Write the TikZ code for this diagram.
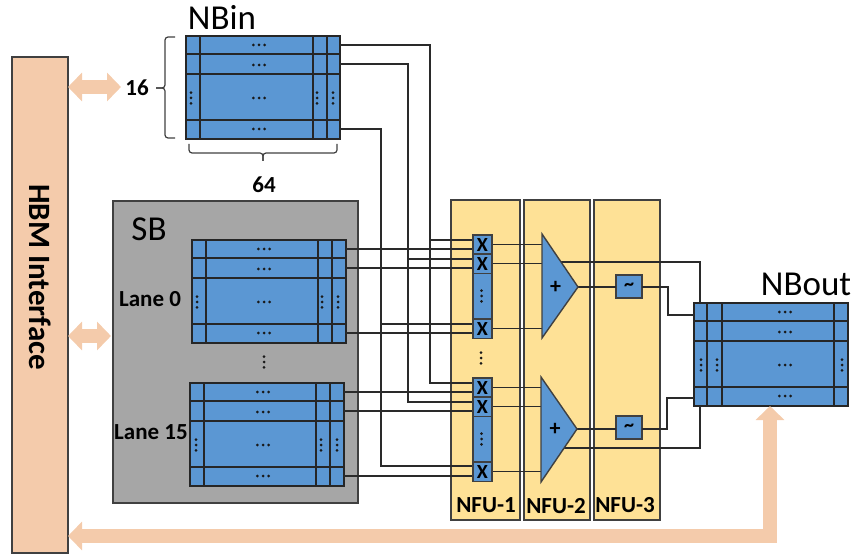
\documentclass[tikz,border=0pt]{standalone}
\usepackage{fontspec}
\setmainfont{Carlito}
\usetikzlibrary{arrows.meta}
\definecolor{memblue}{HTML}{5B97D3}
\definecolor{nfuyellow}{HTML}{FEE196}
\definecolor{peach}{HTML}{F4CBAB}
\definecolor{sbgray}{HTML}{A6A6A6}
\definecolor{edgegray}{HTML}{404040}
\definecolor{wirecol}{HTML}{2A2A2A}
\tikzset{
  panel/.style={draw=edgegray,line width=1.4bp,inner sep=0pt,outer sep=0pt},
  bankbox/.style={draw=black!85,fill=memblue,line width=1.4bp,inner sep=0pt,outer sep=0pt,
    minimum width=154bp,minimum height=103bp,anchor=north west},
  gridline/.style={draw=black!85,line width=1.2bp},
  wire/.style={draw=wirecol,line width=1.2bp},
  unitbox/.style={draw=edgegray,fill=memblue,line width=1.4bp,inner sep=0pt,outer sep=0pt},
  multcell/.style={unitbox,minimum width=19bp,minimum height=19.5bp,font=\fontsize{20bp}{20bp}\selectfont\bfseries},
  adder/.style={draw=edgegray,fill=memblue,line width=1.4bp,line join=miter},
  tilde/.style={unitbox,minimum width=26bp,minimum height=23bp,font=\fontsize{20bp}{20bp}\selectfont\bfseries},
  bigarrow/.style={draw=peach,line width=14bp,line join=miter,
    {Triangle[length=14bp,width=28bp,fill=peach]}-{Triangle[length=14bp,width=28bp,fill=peach]}},
  bigtitle/.style={font=\fontsize{35bp}{35bp}\selectfont,inner sep=0pt},
  boldlabel/.style={font=\fontsize{23bp}{23bp}\selectfont\bfseries,inner sep=0pt},
  bracket/.style={draw=edgegray,line width=1.2bp,rounded corners=3bp},
  dotmark/.style={fill=black!90},
}
% dots: horizontal / vertical triple
\newcommand{\tripleH}[2]{\foreach \dd in {-5.7,0,5.7}{\fill[dotmark] (#1+\dd,#2) circle (1.5bp);}}
\newcommand{\tripleV}[2]{\foreach \dd in {-5.4,0,5.4}{\fill[dotmark] (#1,#2+\dd) circle (1.5bp);}}
% \bank{name}{x}{y}{column offsets}{vertical-dot offsets}{horizontal-dot offset}
\newcommand{\bank}[6]{%
  \node[bankbox] (#1) at (#2,#3) {};
  \foreach \r in {18,38,84}{\draw[gridline] (#2,#3+\r) -- (#2+154,#3+\r);}
  \foreach \c in {#4}{\draw[gridline] (#2+\c,#3) -- (#2+\c,#3+103);}
  \foreach \r in {9,29,62,93}{\tripleH{#2+#6}{#3+\r}}
  \foreach \c in {#5}{\tripleV{#2+\c}{#3+62}}
  \coordinate (#1-e1) at (#2+154,#3+9);
  \coordinate (#1-e2) at (#2+154,#3+28);
  \coordinate (#1-e4) at (#2+154,#3+93);
}
\begin{document}
\begin{tikzpicture}[x=1bp,y=-1bp]
\useasboundingbox (0,0) rectangle (855,557);

% backgrounds
\node[panel,fill=peach,minimum width=56bp,minimum height=496bp,anchor=north west] (hbm) at (12,57) {};
\node[bigtitle,font=\fontsize{31bp}{31bp}\selectfont\bfseries,rotate=-90] (hbmlabel) at (40,277) {HBM Interface};
\node[panel,fill=sbgray,minimum width=245bp,minimum height=302bp,anchor=north west] (sb) at (113,201) {};
\node[panel,fill=nfuyellow,minimum width=69bp,minimum height=320bp,anchor=north west] (nfu1) at (451,200) {};
\node[panel,fill=nfuyellow,minimum width=66bp,minimum height=320bp,anchor=north west] (nfu2) at (524,200) {};
\node[panel,fill=nfuyellow,minimum width=66bp,minimum height=320bp,anchor=north west] (nfu3) at (594,200) {};

% memory banks
\bank{nbin}{186}{36}{14,127,141}{5,131,147}{73}
\bank{lane0}{192}{240}{14,126,140}{5,130,146}{72}
\bank{lanef}{190}{383}{14,126,140}{6,131,147}{73}
\bank{nbout}{694}{303}{13,28,140}{7,23,148}{91}

% junction points
\coordinate (busA) at (430,300);
\coordinate (busB) at (408,300);
\coordinate (busC) at (381,300);
\coordinate (in1a) at (473,240);
\coordinate (in2a) at (473,259);
\coordinate (in3a) at (473,324);
\coordinate (in4a) at (473,383);
\coordinate (in5a) at (473,402);
\coordinate (in6a) at (473,466);
\coordinate (a1top) at (542,234);
\coordinate (a1bot) at (542,338);
\coordinate (a1tip) at (578,287);
\coordinate (a2top) at (541,377);
\coordinate (a2bot) at (541,482);
\coordinate (a2tip) at (577,429);
\coordinate (a1back) at (561,262);
\coordinate (a2back) at (562,448);
\coordinate (back1) at (700,262);
\coordinate (back2) at (700,448);
\coordinate (jog1) at (668,315);
\coordinate (jog2) at (667,398);

% multiplier cells (placed first so that wires may use their names)
\node[multcell,anchor=north west] (m1) at (473,235) {};
\node[multcell,anchor=north west] (m2) at (473,254) {};
\node[multcell,anchor=north west] (m3) at (473,319) {};
\node[multcell,anchor=north west] (m4) at (473,378) {};
\node[multcell,anchor=north west] (m5) at (473,397) {};
\node[multcell,anchor=north west] (m6) at (473,462) {};
\node[tilde,anchor=north west] (t1) at (616,275) {\raisebox{-2bp}{\char`\~}};
\node[tilde,anchor=north west] (t2) at (616,416) {\raisebox{-2bp}{\char`\~}};

% wires: NBin to multipliers
\draw[wire] (nbin-e1) -| (in4a -| busA) -- (in4a);
\draw[wire] (in1a -| busA) -- (in1a);
\draw[wire] (nbin-e2) -| (in5a -| busB) -- (in5a);
\draw[wire] (in2a -| busB) -- (in2a);
\draw[wire] (nbin-e4) -| (in6a -| busC) -- (in6a);
\draw[wire] (in3a -| busC) -- (in3a);
% wires: SB lanes to multipliers
\draw[wire] (lane0-e1) -- (lane0-e1 -| m1.west);
\draw[wire] (lane0-e2) -- (lane0-e2 -| m2.west);
\draw[wire] (lane0-e4) -- (lane0-e4 -| m3.west);
\draw[wire] (lanef-e1) -- (lanef-e1 -| m4.west);
\draw[wire] (lanef-e2) -- (lanef-e2 -| m5.west);
\draw[wire] (lanef-e4) -- (lanef-e4 -| m6.west);
% wires: multipliers to adders
\draw[wire] (m1.east) -- (m1.east -| a1top);
\draw[wire] (m2.east) -- (m2.east -| a1top);
\draw[wire] (m3.east) -- (m3.east -| a1top);
\draw[wire] (m4.east) -- (m4.east -| a2top);
\draw[wire] (m5.east) -- (m5.east -| a2top);
\draw[wire] (m6.east) -- (m6.east -| a2top);
% wires: adders onward
\draw[wire] (a1tip) -- (t1.west |- a1tip);
\draw[wire] (a2tip) -- (t2.west |- a2tip);
\draw[wire] (t1.east |- a1tip) -| (jog1) -- (jog1 -| nbout.west);
\draw[wire] (t2.east |- a2tip) -| (jog2) -- (jog2 -| nbout.west);
\draw[wire] (a1back) -- (back1) -- (back1 |- nbout.north);
\draw[wire] (a2back) -- (back2) -- (back2 |- nbout.south);

% multiplier strips' dotted parts
\node[unitbox,minimum width=19bp,minimum height=46bp,anchor=north west] (s1) at (473,273.5) {};
\node[unitbox,minimum width=19bp,minimum height=46bp,anchor=north west] (s2) at (473,416.5) {};
\foreach \n in {m1,m2,m3,m4,m5,m6}{\node[multcell] at (\n) {X};}
\tripleV{481.5}{296}
\tripleV{481.5}{439}
\tripleV{481}{358}
\tripleV{264}{362}

% adders
\draw[adder] (a1top) -- (a1tip) -- (a1bot) -- cycle;
\draw[adder] (a2top) -- (a2tip) -- (a2bot) -- cycle;
\node[inner sep=0pt,font=\fontsize{22bp}{22bp}\selectfont\bfseries] (plus1) at (555.5,287) {+};
\node[inner sep=0pt,font=\fontsize{22bp}{22bp}\selectfont\bfseries] (plus2) at (555,429) {+};

% wide arrows
\coordinate (nbinport) at (121,87);
\coordinate (sbport) at (111,336);
\coordinate (elbow) at (770,536);
\draw[bigarrow] (hbm.east |- nbinport) -- (nbinport);
\draw[bigarrow] (hbm.east |- sbport) -- (sbport);
\draw[bigarrow] (elbow -| hbm.east) -- (elbow) -- (elbow |- nbout.south);

% brackets
\draw[bracket] (175,37) -- (165,37) -- (165,88) -- (156,88);
\draw[bracket] (156,88) -- (165,88) -- (165,138) -- (175,138);
\draw[bracket] (189,144) -- (189,153) -- (263,153) -- (263,161);
\draw[bracket] (263,161) -- (263,153) -- (337,153) -- (337,144);

% labels
\node[bigtitle] (nbinlabel) at (222,17) {NBin};
\node[bigtitle] (sblabel) at (149,229) {SB};
\node[bigtitle] (nboutlabel) at (806,284) {NBout};
\node[boldlabel] (sixteen) at (137,88) {16};
\node[boldlabel] (sixtyfour) at (264,185) {64};
\node[boldlabel] (lanezero) at (150,299) {Lane 0};
\node[boldlabel] (lanefifteen) at (151,432) {Lane 15};
\node[boldlabel] (nfu1label) at (486,505) {NFU-1};
\node[boldlabel] (nfu2label) at (556,506) {NFU-2};
\node[boldlabel] (nfu3label) at (625,505) {NFU-3};
\end{tikzpicture}
\end{document}
